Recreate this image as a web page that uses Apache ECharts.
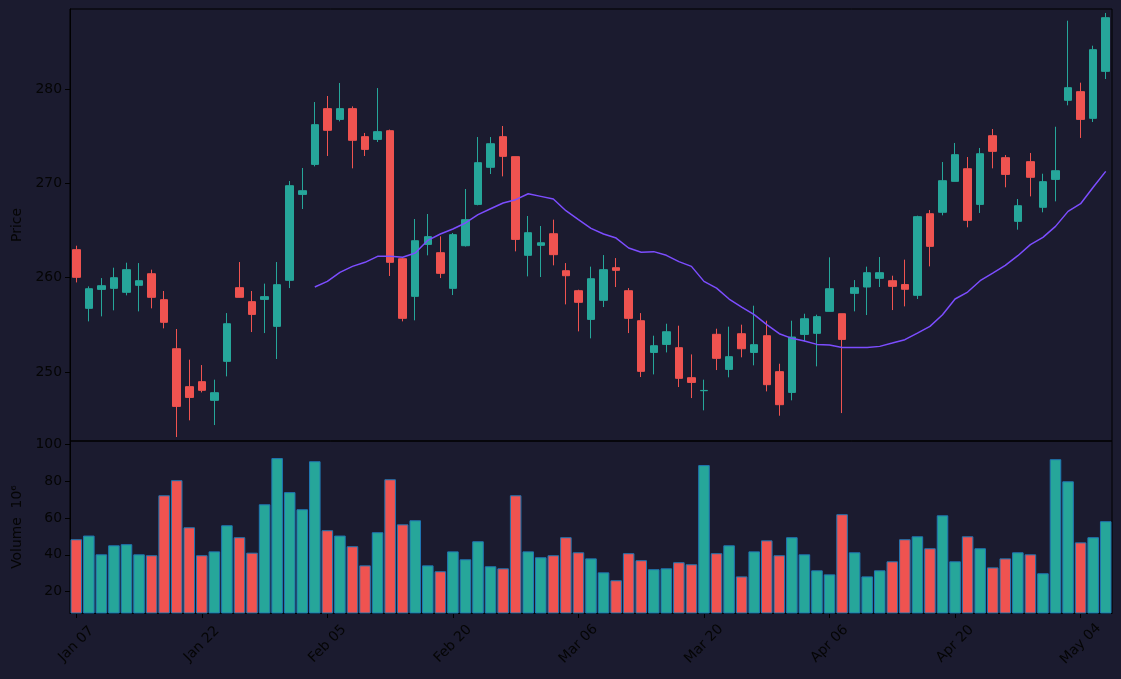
<!DOCTYPE html>
<html>
<head>
<meta charset="utf-8">
<script src="https://cdn.jsdelivr.net/npm/echarts@6/dist/echarts.min.js"></script>
<style>
html,body{margin:0;padding:0;background:#1b1b2f;}
#c{width:1121px;height:679px;}
</style>
</head>
<body>
<div id="c"></div>
<script>
const dates = ['Jan 07','Jan 08','Jan 09','Jan 10','Jan 13','Jan 14','Jan 15','Jan 16','Jan 17','Jan 21',
'Jan 22','Jan 23','Jan 24','Jan 27','Jan 28','Jan 29','Jan 30','Jan 31','Feb 03','Feb 04',
'Feb 05','Feb 06','Feb 07','Feb 10','Feb 11','Feb 12','Feb 13','Feb 14','Feb 18','Feb 19',
'Feb 20','Feb 21','Feb 24','Feb 25','Feb 26','Feb 27','Feb 28','Mar 02','Mar 03','Mar 05',
'Mar 06','Mar 09','Mar 10','Mar 11','Mar 12','Mar 13','Mar 16','Mar 17','Mar 18','Mar 19',
'Mar 20','Mar 23','Mar 24','Mar 25','Mar 26','Mar 27','Mar 30','Mar 31','Apr 01','Apr 03',
'Apr 06','Apr 07','Apr 08','Apr 09','Apr 10','Apr 13','Apr 14','Apr 15','Apr 16','Apr 17',
'Apr 20','Apr 21','Apr 22','Apr 23','Apr 24','Apr 27','Apr 28','Apr 29','Apr 30','May 01',
'May 04','May 05','May 06'];

const opens = [262.97,256.75,258.76,258.87,258.45,259.19,260.42,257.67,252.47,248.45,
248.98,247.0,251.13,258.94,257.46,257.7,254.84,259.72,268.83,272.01,
277.92,276.78,277.92,274.95,274.66,275.58,262.01,258.02,263.53,262.65,
258.87,263.39,267.77,271.7,274.95,272.83,262.37,263.43,264.66,260.74,
258.62,255.58,257.6,261.06,258.62,255.44,252.08,252.93,252.58,249.4,
248.02,254.0,250.28,254.06,252.08,253.85,250.04,247.84,253.99,254.1,
256.43,256.18,258.34,259.01,259.93,259.68,259.27,258.13,266.78,266.93,
270.21,271.55,267.77,275.05,272.72,265.97,272.3,267.46,270.42,278.8,
279.72,276.89,281.87];

const closes = [260.04,258.83,259.15,260.0,260.85,259.68,257.92,255.27,246.36,247.31,
248.06,247.81,255.12,257.92,256.11,257.99,259.26,269.75,269.22,276.22,
275.62,277.92,274.56,273.6,275.48,261.63,255.69,263.92,264.35,260.46,
264.56,266.15,272.19,274.2,272.86,264.06,264.77,263.7,262.44,260.21,
257.39,259.89,260.85,260.78,255.69,250.07,252.79,254.27,249.33,248.9,
248.05,251.45,251.63,252.47,252.9,248.66,246.54,253.71,255.65,255.87,
258.83,253.46,258.94,260.53,260.53,259.08,258.77,266.47,263.32,270.28,
273.04,266.08,273.14,273.39,270.95,267.63,270.64,270.18,271.34,280.14,
276.78,284.17,287.56];

const lows = [259.5,255.37,255.9,256.54,258.13,256.43,256.75,254.63,243.11,244.88,
247.84,244.38,249.54,257.9,254.24,254.13,251.38,258.9,267.28,271.8,
272.9,276.57,271.59,272.9,274.38,260.18,255.37,255.48,262.37,259.96,
258.16,263.3,267.67,270.99,270.74,262.79,260.14,260.07,261.31,257.17,
254.31,253.57,256.89,259.01,254.13,249.47,249.75,252.08,248.41,247.24,
245.94,250.21,249.44,251.56,250.71,247.95,245.37,247.0,253.25,250.6,
256.43,245.65,256.43,256.04,259.01,256.57,256.96,257.74,261.2,266.61,
270.2,265.34,266.86,271.59,269.58,265.09,268.62,266.93,268.09,278.27,
274.81,276.5,281.06];

const highs = [263.39,259.08,259.96,261.06,261.59,261.55,260.85,258.59,254.56,251.31,
250.74,249.19,256.25,261.66,258.59,259.37,261.66,270.25,271.63,278.62,
279.26,280.64,278.16,275.34,280.1,275.7,262.08,266.22,266.75,264.38,
264.74,269.4,274.91,274.91,276.08,272.83,266.54,265.48,266.15,261.55,
258.73,261.17,262.4,262.08,258.9,256.25,253.85,255.12,254.91,251.87,
249.19,254.59,254.81,255.02,257.03,255.44,250.88,255.44,256.18,256.08,
262.16,256.18,259.75,261.17,262.19,260.21,261.91,266.57,267.17,272.26,
274.28,272.79,273.75,275.76,273.0,268.34,273.22,271.02,276.0,287.24,
280.67,284.59,288.06];

const volumes = [48.5,50.5,40.3,45.2,45.8,40.3,39.8,72.4,80.6,55.0,
39.8,41.9,56.1,49.6,41.2,67.5,92.6,74.1,64.8,90.9,
53.4,50.5,44.7,34.3,52.3,81.1,56.6,58.8,34.3,31.1,
41.9,37.6,47.4,33.8,32.7,72.4,41.9,38.7,39.8,49.6,
41.4,38.1,30.5,26.2,40.9,37.1,32.2,32.7,36.0,34.9,
88.8,40.9,45.2,28.3,41.9,47.9,39.8,49.6,40.3,31.6,
29.4,62.1,41.4,28.3,31.6,36.5,48.5,50.1,43.6,61.5,
36.5,50.1,43.6,33.2,38.1,41.4,40.3,30.0,92.0,80.0,
46.8,49.6,58.3];

// 20-period moving average (starts at the 20th session)
const maStart = 19;
const maValues = [259.01,259.61,260.57,261.2,261.63,262.26,262.26,262.16,262.61,263.96,
264.63,265.16,265.8,266.68,267.31,267.92,268.27,268.9,268.62,268.34,
267.1,266.15,265.23,264.63,264.2,263.15,262.69,262.76,262.37,261.7,
261.2,259.61,258.9,257.74,256.89,256.08,255.02,254.06,253.57,253.29,
252.93,252.86,252.61,252.61,252.61,252.72,253.07,253.43,254.13,254.84,
256.08,257.74,258.48,259.68,260.49,261.31,262.33,263.5,264.28,265.44,
267.03,267.84,269.58,271.27];

const priceTicks = [250, 260, 270, 280];
const volumeTicks = [20, 40, 60, 80, 100];
const labelEvery = 10;

const UP = '#26a69a', DOWN = '#ef5350';
const BG = '#1b1b2f';
const FONT = 'DejaVu Sans';
const TXT = '#050505';

const candleData = opens.map((o, i) => [o, closes[i], lows[i], highs[i]]);
const maData = dates.map((d, i) => i < maStart ? null : maValues[i - maStart]);
const volData = volumes.map((v, i) => ({
  value: v,
  itemStyle: { color: closes[i] >= opens[i] ? UP : DOWN }
}));

const chart = echarts.init(document.getElementById('c'), null, { renderer: 'canvas' });
chart.setOption({
  backgroundColor: BG,
  animation: false,
  grid: [
    { left: 70, right: 9, top: 9, height: 432, show: true, borderColor: '#000', borderWidth: 1, backgroundColor: 'transparent', outerBoundsMode: 'none' },
    { left: 70, right: 9, top: 441, height: 172, show: true, borderColor: '#000', borderWidth: 1, backgroundColor: 'transparent', outerBoundsMode: 'none' }
  ],
  xAxis: [
    { type: 'category', gridIndex: 0, data: dates, boundaryGap: true,
      axisLine: { show: false }, axisTick: { show: false }, axisLabel: { show: false }, splitLine: { show: false } },
    { type: 'category', gridIndex: 1, data: dates, boundaryGap: true,
      axisLine: { show: true, lineStyle: { color: '#000', width: 1 } },
      axisTick: { show: true, alignWithLabel: true, length: 5, lineStyle: { color: '#000' },
        interval: (i) => i % labelEvery === 0 },
      axisLabel: { show: true, interval: (i) => i % labelEvery === 0, rotate: 45, color: TXT,
        fontFamily: FONT, fontSize: 13.9, align: 'center', verticalAlign: 'middle', margin: 31 },
      splitLine: { show: false } }
  ],
  yAxis: [
    { type: 'value', gridIndex: 0, min: 242.69, max: 288.48, scale: true,
      name: 'Price', nameLocation: 'middle', nameGap: 40, nameRotate: 90,
      nameTextStyle: { color: TXT, fontFamily: FONT, fontSize: 13.9 },
      axisLine: { show: true, lineStyle: { color: '#000' } },
      axisTick: { show: true, inside: false, length: 5, lineStyle: { color: '#000' }, customValues: priceTicks },
      axisLabel: { color: TXT, fontFamily: FONT, fontSize: 13.9, margin: 8, customValues: priceTicks },
      splitLine: { show: false } },
    { type: 'value', gridIndex: 1, min: 8.4, max: 101.9, scale: true,
      name: 'Volume  10⁶', nameLocation: 'middle', nameGap: 42, nameRotate: 90,
      nameTextStyle: { color: TXT, fontFamily: FONT, fontSize: 13.9 },
      axisLine: { show: true, lineStyle: { color: '#000' } },
      axisTick: { show: true, inside: false, length: 5, lineStyle: { color: '#000' }, customValues: volumeTicks },
      axisLabel: { color: TXT, fontFamily: FONT, fontSize: 13.9, margin: 8, customValues: volumeTicks },
      splitLine: { show: false } }
  ],
  series: [
    { type: 'candlestick', xAxisIndex: 0, yAxisIndex: 0, data: candleData, barWidth: 8,
      itemStyle: { color: UP, color0: DOWN, borderColor: UP, borderColor0: DOWN, borderWidth: 1 } },
    { type: 'line', xAxisIndex: 0, yAxisIndex: 0, data: maData, showSymbol: false, symbol: 'none',
      lineStyle: { color: '#7c4dff', width: 1.5 }, connectNulls: false },
    { type: 'bar', xAxisIndex: 1, yAxisIndex: 1, data: volData, barCategoryGap: '8%',
      itemStyle: { borderColor: '#1f77b4', borderWidth: 1 } }
  ]
});
</script>
</body>
</html>
